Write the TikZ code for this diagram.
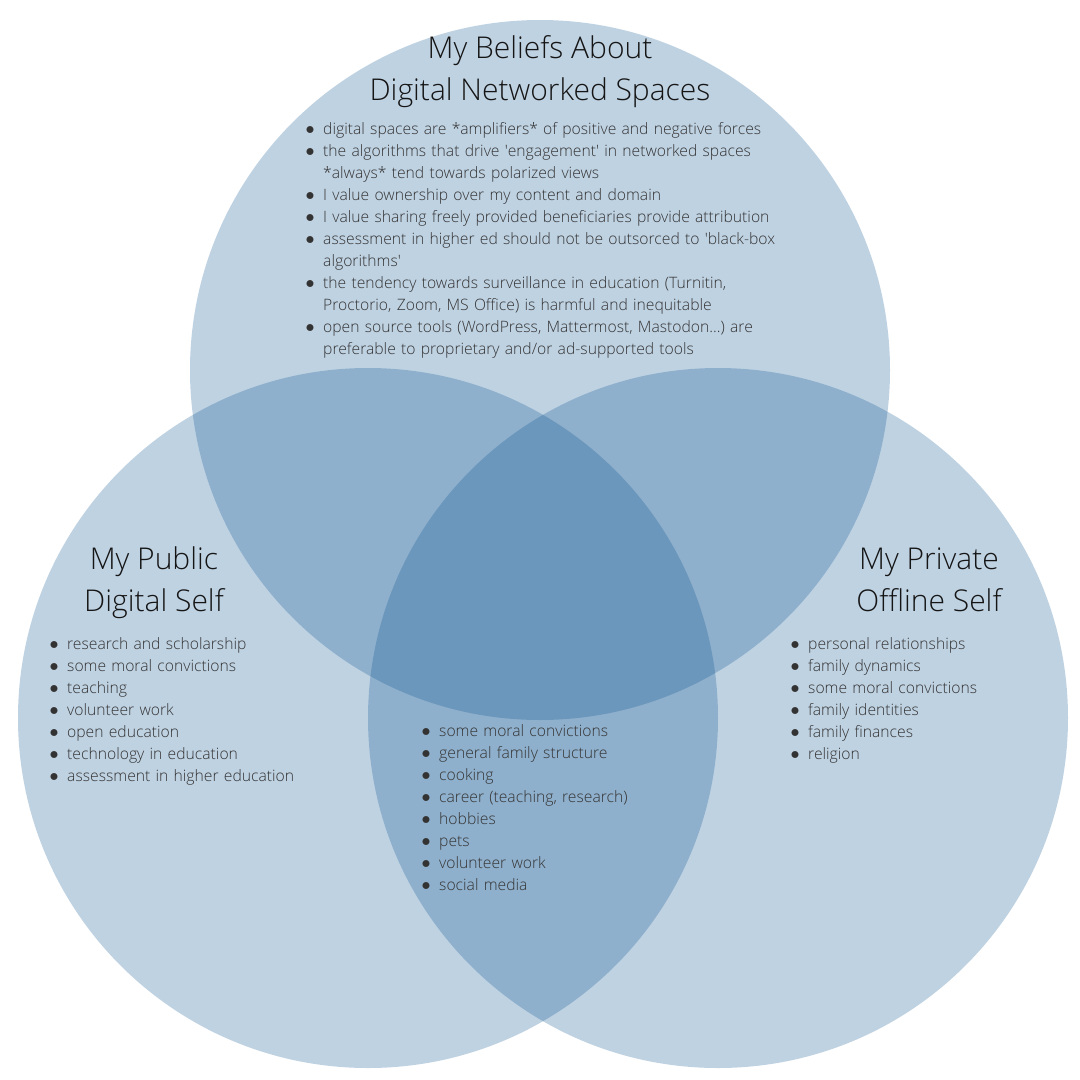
\documentclass[tikz,border=0pt]{standalone}
\usepackage{fontspec}
\setmainfont{Open Sans}[UprightFont=* Light, BoldFont=*]
\usepackage{enumitem}
\usetikzlibrary{positioning}
\definecolor{vennblue}{HTML}{004B8B}
\definecolor{bodygray}{HTML}{333333}
\definecolor{titlegray}{HTML}{151515}
\frenchspacing
\newcommand\listdot{\raisebox{-0.3pt}{\scalebox{1.25}{$\bullet$}}}
\setlist[itemize]{label=\listdot, nosep, leftmargin=15pt, labelsep=8.5pt}

\begin{document}
\begin{tikzpicture}[x=1pt, y=-1pt,
  venn/.style={fill=vennblue, fill opacity=0.25, draw=none},
  settitle/.style={align=center, inner sep=0pt, text=titlegray, font=\fontsize{30}{42}\selectfont},
  itemlist/.style={anchor=north west, inner sep=0pt, text width=#1, text=bodygray, font=\fontsize{15.7}{22}\selectfont}]

\useasboundingbox (0,0) rectangle (1080,1080);

% the three sets
\fill[venn] (540,370) circle (350);
\fill[venn] (368,718) circle (350);
\fill[venn] (718,718) circle (350);

% titles
\node[settitle] (beliefs) at (540,71.5) {My Beliefs About\\Digital Networked Spaces};
\node[settitle] (public) at (154,583) {My Public\\Digital Self};
\node[settitle] (private) at (929,580) {My Private\\Offline Self};

% lists
\node[itemlist=500pt] (beliefsList) at (308,112) {%
\begin{itemize}
\item digital spaces are *amplifiers* of positive and negative forces
\item the algorithms that drive \textquotesingle engagement\textquotesingle{} in networked spaces\newline *always* tend towards polarized views
\item I value ownership over my content and domain
\item I value sharing freely provided beneficiaries provide attribution
\item assessment in higher ed should not be outsorced to \textquotesingle black-box\newline algorithms\textquotesingle
\item the tendency towards surveillance in education (Turnitin,\newline Proctorio, Zoom, MS Office) is harmful and inequitable
\item open source tools (WordPress, Mattermost, Mastodon...) are\newline preferable to proprietary and/or ad-supported tools
\end{itemize}};

\node[itemlist=280pt] (publicList) at (52,627) {%
\begin{itemize}
\item research and scholarship
\item some moral convictions
\item teaching
\item volunteer work
\item open education
\item technology in education
\item assessment in higher education
\end{itemize}};

\node[itemlist=260pt] (sharedList) at (424,714) {%
\begin{itemize}
\item some moral convictions
\item general family structure
\item cooking
\item career (teaching, research)
\item hobbies
\item pets
\item volunteer work
\item social media
\end{itemize}};

\node[itemlist=260pt] (privateList) at (793,627) {%
\begin{itemize}
\item personal relationships
\item family dynamics
\item some moral convictions
\item family identities
\item family finances
\item religion
\end{itemize}};
\end{tikzpicture}
\end{document}
